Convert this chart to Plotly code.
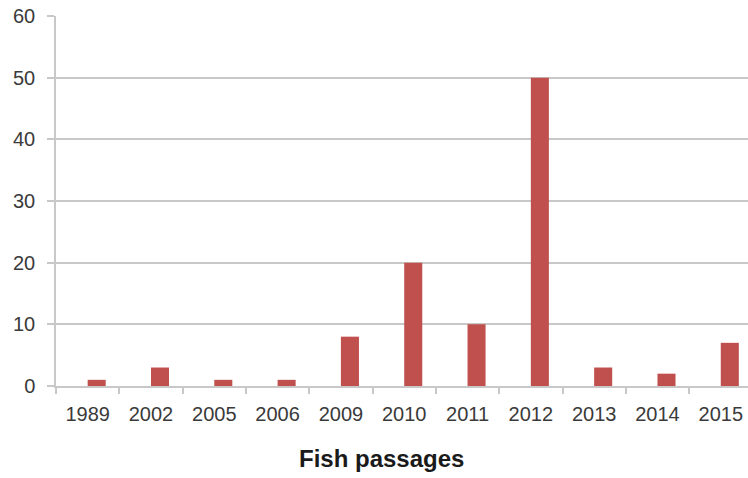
import plotly.graph_objects as go

# Fish passages built per year
years = ["1989", "2002", "2005", "2006", "2009", "2010", "2011", "2012", "2013", "2014", "2015"]
passages = [1, 3, 1, 1, 8, 20, 10, 50, 3, 2, 7]
y_ticks = [0, 10, 20, 30, 40, 50, 60]

bar_color = "#C0504D"
grid_color = "#C8C8C8"
text_color = "#3A3A3A"
font_family = "Liberation Sans, Arial, sans-serif"

fig = go.Figure(
    go.Bar(
        x=years,
        y=passages,
        marker=dict(color=bar_color, line=dict(width=0)),
        width=0.285,
        offset=0,
        hoverinfo="x+y",
    )
)

fig.update_layout(
    width=748,
    height=478,
    margin=dict(l=56, r=0, t=16, b=92),
    paper_bgcolor="white",
    plot_bgcolor="white",
    showlegend=False,
    font=dict(family=font_family, size=20, color=text_color),
    xaxis=dict(
        type="category",
        range=[-0.5, 10.43],
        tickson="boundaries",
        ticks="outside",
        ticklen=6,
        tickwidth=1.5,
        tickcolor=grid_color,
        showline=True,
        linecolor=grid_color,
        linewidth=1.5,
        showgrid=False,
        ticklabelstandoff=9,
        tickfont=dict(size=20, color=text_color),
        fixedrange=True,
    ),
    yaxis=dict(
        range=[0, 60],
        tickvals=y_ticks,
        ticks="outside",
        ticklen=7,
        tickwidth=1.5,
        tickcolor=grid_color,
        showline=True,
        linecolor=grid_color,
        linewidth=1.5,
        showgrid=True,
        gridcolor=grid_color,
        gridwidth=1.5,
        zeroline=False,
        ticklabelstandoff=8,
        tickfont=dict(size=20, color=text_color),
        fixedrange=True,
    ),
    annotations=[
        dict(
            text="<b>Fish passages</b>",
            xref="paper",
            yref="paper",
            x=0.4697,
            y=-0.1946,
            xanchor="center",
            yanchor="middle",
            showarrow=False,
            font=dict(family=font_family, size=24, color="#1A1A1A"),
        )
    ],
)

fig.write_html("out.html")
